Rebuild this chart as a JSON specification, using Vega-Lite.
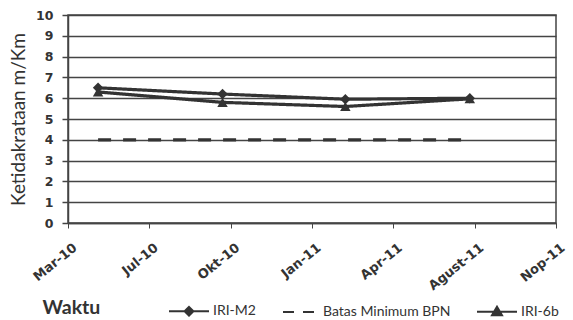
{
  "$schema": "https://vega.github.io/schema/vega-lite/v6.json",
  "width": 488,
  "height": 208,
  "autosize": "none",
  "padding": {"left": 68, "top": 15, "right": 17, "bottom": 97},
  "background": "white",
  "config": {"font": "Lato", "view": {"stroke": "#444", "strokeWidth": 1.5}},
  "data": {
    "values": [
      {"date": "2010-05-01", "value": 6.5, "series": "IRI-M2"},
      {"date": "2010-10-01", "value": 6.2, "series": "IRI-M2"},
      {"date": "2011-03-01", "value": 5.95, "series": "IRI-M2"},
      {"date": "2011-08-01", "value": 6.0, "series": "IRI-M2"},
      {"date": "2010-05-01", "value": 4, "series": "Batas Minimum BPN"},
      {"date": "2011-08-01", "value": 4, "series": "Batas Minimum BPN"},
      {"date": "2010-05-01", "value": 6.3, "series": "IRI-6b"},
      {"date": "2010-10-01", "value": 5.8, "series": "IRI-6b"},
      {"date": "2011-03-01", "value": 5.6, "series": "IRI-6b"},
      {"date": "2011-08-01", "value": 5.97, "series": "IRI-6b"}
    ]
  },
  "encoding": {
    "x": {
      "field": "date",
      "type": "temporal",
      "scale": {"domain": [{"year": 2010, "month": 3, "date": 25}, {"year": 2011, "month": 11, "date": 15}]},
      "axis": {
        "values": [
          {"year": 2010, "month": 3, "date": 25},
          {"year": 2010, "month": 7, "date": 3},
          {"year": 2010, "month": 10, "date": 11},
          {"year": 2011, "month": 1, "date": 19},
          {"year": 2011, "month": 4, "date": 29},
          {"year": 2011, "month": 8, "date": 7},
          {"year": 2011, "month": 11, "date": 15}
        ],
        "labelExpr": "['Jan','Feb','Mar','Apr','Mei','Jun','Jul','Agust','Sep','Okt','Nop','Des'][month(datum.value)] + '-' + timeFormat(datum.value, '%y')",
        "labelAngle": -39,
        "labelAlign": "right",
        "labelBaseline": "top",
        "labelFont": "DejaVu Sans",
        "labelFontSize": 13,
        "labelFontWeight": "bold",
        "labelColor": "#333",
        "labelPadding": 13,
        "labelOffset": 3,
        "labelFlush": false,
        "labelOverlap": false,
        "grid": false,
        "domainColor": "#444",
        "domainWidth": 1.5,
        "tickColor": "#444",
        "tickSize": 5,
        "title": "Waktu",
        "titleFontSize": 19.5,
        "titleFontWeight": "bold",
        "titleColor": "#333",
        "titleAlign": "left",
        "titleBaseline": "middle",
        "titleX": -26,
        "titleY": 84
      }
    },
    "y": {
      "field": "value",
      "type": "quantitative",
      "scale": {"domain": [0, 10], "nice": false},
      "axis": {
        "values": [0, 1, 2, 3, 4, 5, 6, 7, 8, 9, 10],
        "grid": true,
        "gridColor": "#444",
        "gridWidth": 1.5,
        "domainColor": "#444",
        "domainWidth": 1.5,
        "tickColor": "#444",
        "tickSize": 6,
        "tickWidth": 1.5,
        "labelFont": "DejaVu Sans",
        "labelFontSize": 12.5,
        "labelFontWeight": "bold",
        "labelColor": "#333",
        "labelPadding": 9,
        "title": "Ketidakrataan m/Km",
        "titleFontSize": 19,
        "titleFontWeight": "normal",
        "titleColor": "#333",
        "titlePadding": 7
      }
    }
  },
  "layer": [
    {
      "mark": {"type": "line", "color": "#333", "strokeWidth": 3.2},
      "encoding": {
        "detail": {"field": "series"},
        "strokeDash": {
          "field": "series",
          "scale": {"domain": ["IRI-M2", "Batas Minimum BPN", "IRI-6b"], "range": [[1, 0], [13, 12], [1, 0]]},
          "legend": null
        }
      }
    },
    {
      "transform": [{"filter": "datum.series != 'Batas Minimum BPN'"}],
      "mark": {"type": "point", "filled": true, "color": "#333", "size": 110, "opacity": 1},
      "encoding": {
        "shape": {
          "field": "series",
          "scale": {"domain": ["IRI-M2", "IRI-6b"], "range": ["diamond", "triangle-up"]},
          "legend": null
        }
      }
    },
    {
      "transform": [{"filter": "datum.series == 'none'"}],
      "mark": {"type": "point", "filled": false, "color": "#333", "strokeWidth": 2, "opacity": 1},
      "encoding": {
        "shape": {
          "field": "series",
          "scale": {
            "domain": ["IRI-M2", "Batas Minimum BPN", "IRI-6b"],
            "range": [
              "M-1,0L1,0M0,-0.22L0.22,0L0,0.22L-0.22,0ZM0,-0.11L0.11,0L0,0.11L-0.11,0Z",
              "M-0.8,0L-0.25,0M0.2,0L0.75,0",
              "M-1,0L1,0M0,-0.25L0.25,0.18L-0.25,0.18ZM0,-0.12L0.12,0.1L-0.12,0.1Z"
            ]
          },
          "legend": {
            "title": null,
            "orient": "none",
            "legendX": 100,
            "legendY": 275,
            "direction": "horizontal",
            "columns": 3,
            "columnPadding": 22,
            "symbolSize": 1600,
            "symbolStrokeColor": "#333",
            "symbolStrokeWidth": 2,
            "symbolFillColor": "#333",
            "symbolOpacity": 1,
            "labelFontSize": 14,
            "labelColor": "#333",
            "labelOffset": 3
          }
        }
      }
    }
  ],
  "resolve": {"scale": {"shape": "independent"}, "legend": {"shape": "independent"}}
}
